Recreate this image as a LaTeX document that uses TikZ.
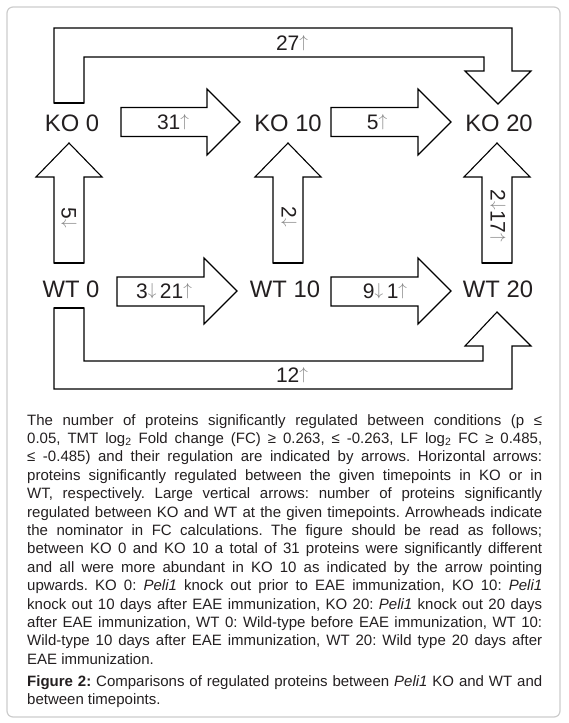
\documentclass[tikz,border=0pt]{standalone}
\usepackage{fontspec}
\setmainfont{Liberation Sans}
\definecolor{txt}{HTML}{231F20}
\definecolor{arrgray}{HTML}{858585}
\definecolor{panel}{HTML}{CCCCCC}
\newcommand{\uparr}{{\color{arrgray}\raisebox{3.1pt}{\fontsize{16.5}{16.5}\selectfont$\uparrow$}}}
\newcommand{\dnarr}{{\color{arrgray}\raisebox{3.1pt}{\fontsize{16.5}{16.5}\selectfont$\downarrow$}}}
\newcommand{\capfont}{\fontsize{15}{18.4}\selectfont\frenchspacing\spaceskip=4.1pt plus 6pt minus 1.2pt\relax}
\newcommand{\captext}[1]{\parbox[t]{515pt}{\capfont\tolerance=10000\hbadness=10000\rightskip=0pt\leftskip=0pt\parindent=0pt\parfillskip=0pt plus 1fil\relax #1}}
\begin{document}
\begin{tikzpicture}[x=1pt,y=-1pt,
  blk/.style={draw=black,line width=1.1pt,fill=white,line join=miter},
  cond/.style={font=\fontsize{23.8}{27}\selectfont,text=txt,inner sep=0pt},
  lab/.style={font=\fontsize{21}{24}\selectfont,text=txt,inner sep=0pt},
  vlab/.style={lab,rotate=-90},
  foot/.style={line width=2.2pt}]
\useasboundingbox (0,0) rectangle (568,723);
\draw[panel,line width=1.2pt,rounded corners=6pt] (7,7) rectangle (560,717);
% top bent arrow KO0 -> KO20
\draw[blk] (54,103) -- (54,28) -- (512,28) -- (512,71) -- (531,71) -- (498,104)
  -- (465,71) -- (484,71) -- (484,57) -- (84,57) -- (84,103) -- cycle;
\draw[foot] (54,103) -- (84,103);
% bottom bent arrow WT0 -> WT20
\draw[blk] (54,308) -- (54,389) -- (512,389) -- (512,346) -- (531,346) -- (497,312)
  -- (465,346) -- (483,346) -- (483,361) -- (84,361) -- (84,308) -- cycle;
\draw[foot] (54,308) -- (84,308);
% horizontal arrows KO row
\draw[blk] (121,107.5) -- (207,107.5) -- (207,89) -- (240,122) -- (207,155) -- (207,136.5) -- (121,136.5) -- cycle;
\draw[blk] (331,107.5) -- (418,107.5) -- (418,89) -- (451,122) -- (418,155) -- (418,136.5) -- (331,136.5) -- cycle;
% horizontal arrows WT row
\draw[blk] (117,277) -- (204,277) -- (204,258) -- (237,291) -- (204,324) -- (204,306) -- (117,306) -- cycle;
\draw[blk] (331,277) -- (418,277) -- (418,258) -- (451,291) -- (418,324) -- (418,306) -- (331,306) -- cycle;
% vertical arrows
\foreach \c in {69,288,497}{
  \draw[blk] (\c-15,263) -- (\c-15,177) -- (\c-33,177) -- (\c,143) -- (\c+33,177) -- (\c+15,177) -- (\c+15,263) -- cycle;
  \draw[foot] (\c-15,263) -- (\c+15,263);
}
% condition labels
\node[cond] (ko0) at (72,123) {KO 0};
\node[cond] (ko10) at (288,123) {KO 10};
\node[cond] (ko20) at (499,123) {KO 20};
\node[cond] (wt0) at (71,289) {WT 0};
\node[cond] (wt10) at (285,289) {WT 10};
\node[cond] (wt20) at (498,289) {WT 20};
% arrow labels
\node[lab] (l27) at (292,43) {27\uparr};
\node[lab] (l12) at (292,375) {12\uparr};
\node[lab] (l31) at (173,122) {31\uparr};
\node[lab] (l5) at (377,122) {5\uparr};
\node[lab] (l321) at (164,291) {3\dnarr\,21\uparr};
\node[lab] (l91) at (385,291) {9\dnarr\,1\uparr};
\node[vlab] (v5) at (69,218) {5\dnarr};
\node[vlab] (v2) at (289,217) {2\dnarr};
\node[vlab] (v217) at (498,216) {2\dnarr17\uparr};
% caption
\node[anchor=north west,inner sep=0pt,text=txt] (cap) at (27,414) {\captext{%
The number of proteins significantly regulated between conditions (p ≤\linebreak
0.05, TMT log\textsubscript{2} Fold change (FC) ≥ 0.263, ≤ -0.263, LF log\textsubscript{2} FC ≥ 0.485,\linebreak
≤ -0.485) and their regulation are indicated by arrows. Horizontal arrows:\linebreak
proteins significantly regulated between the given timepoints in KO or in\linebreak
WT, respectively. Large vertical arrows: number of proteins significantly\linebreak
regulated between KO and WT at the given timepoints. Arrowheads indicate\linebreak
the nominator in FC calculations. The figure should be read as follows;\linebreak
between KO 0 and KO 10 a total of 31 proteins were significantly different\linebreak
and all were more abundant in KO 10 as indicated by the arrow pointing\linebreak
upwards. KO 0: \textit{Peli1} knock out prior to EAE immunization, KO 10: \textit{Peli1}\linebreak
knock out 10 days after EAE immunization, KO 20: \textit{Peli1} knock out 20 days\linebreak
after EAE immunization, WT 0: Wild-type before EAE immunization, WT 10:\linebreak
Wild-type 10 days after EAE immunization, WT 20: Wild type 20 days after\linebreak
EAE immunization.}};
\node[anchor=north west,inner sep=0pt,text=txt] (fig) at (27,675) {\captext{%
\textbf{Figure 2:} Comparisons of regulated proteins between \textit{Peli1} KO and WT and\linebreak
between timepoints.}};
\end{tikzpicture}
\end{document}
